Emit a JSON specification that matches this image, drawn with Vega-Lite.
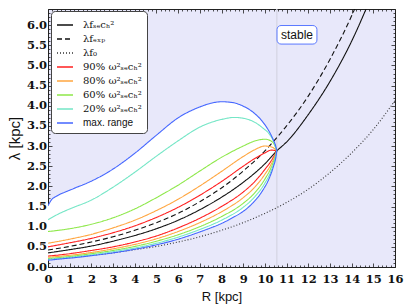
{
  "$schema": "https://vega.github.io/schema/vega-lite/v6.json",
  "width": 347,
  "height": 258,
  "autosize": {"type": "none"},
  "padding": {"left": 48, "top": 9, "right": 12, "bottom": 38},
  "background": "white",
  "config": {
    "view": {"fill": "#e8e8fa", "stroke": "#222", "strokeWidth": 1},
    "axis": {"domain": false, "grid": false, "labelOverlap": false, "labelFlush": false, "labelBound": false, "tickColor": "#222", "tickWidth": 0.8}
  },
  "datasets": {
    "curves": [
      {"s": "λfₛₑcₕ²", "b": "m", "x": 0, "y": 0.35},
      {"s": "λfₛₑcₕ²", "b": "m", "x": 1, "y": 0.43},
      {"s": "λfₛₑcₕ²", "b": "m", "x": 2, "y": 0.52},
      {"s": "λfₛₑcₕ²", "b": "m", "x": 3, "y": 0.64},
      {"s": "λfₛₑcₕ²", "b": "m", "x": 4, "y": 0.78},
      {"s": "λfₛₑcₕ²", "b": "m", "x": 5, "y": 0.95},
      {"s": "λfₛₑcₕ²", "b": "m", "x": 6, "y": 1.16},
      {"s": "λfₛₑcₕ²", "b": "m", "x": 7, "y": 1.42},
      {"s": "λfₛₑcₕ²", "b": "m", "x": 8, "y": 1.73},
      {"s": "λfₛₑcₕ²", "b": "m", "x": 9, "y": 2.1},
      {"s": "λfₛₑcₕ²", "b": "m", "x": 10, "y": 2.56},
      {"s": "λfₛₑcₕ²", "b": "m", "x": 10.55, "y": 2.88},
      {"s": "λfₛₑcₕ²", "b": "m", "x": 11, "y": 3.1},
      {"s": "λfₛₑcₕ²", "b": "m", "x": 12, "y": 3.78},
      {"s": "λfₛₑcₕ²", "b": "m", "x": 13, "y": 4.6},
      {"s": "λfₛₑcₕ²", "b": "m", "x": 14, "y": 5.6},
      {"s": "λfₛₑcₕ²", "b": "m", "x": 15, "y": 6.83},

      {"s": "λfₑₓₚ", "b": "m", "x": 0, "y": 0.42},
      {"s": "λfₑₓₚ", "b": "m", "x": 1, "y": 0.51},
      {"s": "λfₑₓₚ", "b": "m", "x": 2, "y": 0.62},
      {"s": "λfₑₓₚ", "b": "m", "x": 3, "y": 0.75},
      {"s": "λfₑₓₚ", "b": "m", "x": 4, "y": 0.91},
      {"s": "λfₑₓₚ", "b": "m", "x": 5, "y": 1.1},
      {"s": "λfₑₓₚ", "b": "m", "x": 6, "y": 1.33},
      {"s": "λfₑₓₚ", "b": "m", "x": 7, "y": 1.62},
      {"s": "λfₑₓₚ", "b": "m", "x": 8, "y": 1.96},
      {"s": "λfₑₓₚ", "b": "m", "x": 9, "y": 2.38},
      {"s": "λfₑₓₚ", "b": "m", "x": 10, "y": 2.88},
      {"s": "λfₑₓₚ", "b": "m", "x": 10.5, "y": 3.18},
      {"s": "λfₑₓₚ", "b": "m", "x": 11, "y": 3.5},
      {"s": "λfₑₓₚ", "b": "m", "x": 12, "y": 4.24},
      {"s": "λfₑₓₚ", "b": "m", "x": 13, "y": 5.15},
      {"s": "λfₑₓₚ", "b": "m", "x": 14, "y": 6.23},
      {"s": "λfₑₓₚ", "b": "m", "x": 14.5, "y": 6.85},

      {"s": "λf₀", "b": "m", "x": 0, "y": 0.2},
      {"s": "λf₀", "b": "m", "x": 1, "y": 0.24},
      {"s": "λf₀", "b": "m", "x": 2, "y": 0.29},
      {"s": "λf₀", "b": "m", "x": 3, "y": 0.35},
      {"s": "λf₀", "b": "m", "x": 4, "y": 0.43},
      {"s": "λf₀", "b": "m", "x": 5, "y": 0.51},
      {"s": "λf₀", "b": "m", "x": 6, "y": 0.62},
      {"s": "λf₀", "b": "m", "x": 7, "y": 0.75},
      {"s": "λf₀", "b": "m", "x": 8, "y": 0.91},
      {"s": "λf₀", "b": "m", "x": 9, "y": 1.1},
      {"s": "λf₀", "b": "m", "x": 10, "y": 1.33},
      {"s": "λf₀", "b": "m", "x": 11, "y": 1.6},
      {"s": "λf₀", "b": "m", "x": 12, "y": 1.93},
      {"s": "λf₀", "b": "m", "x": 13, "y": 2.34},
      {"s": "λf₀", "b": "m", "x": 14, "y": 2.83},
      {"s": "λf₀", "b": "m", "x": 15, "y": 3.41},
      {"s": "λf₀", "b": "m", "x": 16, "y": 4.13},

      {"s": "90% ω²ₛₑcₕ²", "b": "u", "x": 0, "y": 0.5},
      {"s": "90% ω²ₛₑcₕ²", "b": "u", "x": 1, "y": 0.6},
      {"s": "90% ω²ₛₑcₕ²", "b": "u", "x": 2, "y": 0.71},
      {"s": "90% ω²ₛₑcₕ²", "b": "u", "x": 3, "y": 0.85},
      {"s": "90% ω²ₛₑcₕ²", "b": "u", "x": 4, "y": 1.02},
      {"s": "90% ω²ₛₑcₕ²", "b": "u", "x": 5, "y": 1.23},
      {"s": "90% ω²ₛₑcₕ²", "b": "u", "x": 6, "y": 1.48},
      {"s": "90% ω²ₛₑcₕ²", "b": "u", "x": 7, "y": 1.78},
      {"s": "90% ω²ₛₑcₕ²", "b": "u", "x": 8, "y": 2.12},
      {"s": "90% ω²ₛₑcₕ²", "b": "u", "x": 9, "y": 2.5},
      {"s": "90% ω²ₛₑcₕ²", "b": "u", "x": 9.5, "y": 2.68},
      {"s": "90% ω²ₛₑcₕ²", "b": "u", "x": 10, "y": 2.83},
      {"s": "90% ω²ₛₑcₕ²", "b": "u", "x": 10.3, "y": 2.9},
      {"s": "90% ω²ₛₑcₕ²", "b": "u", "x": 10.55, "y": 2.88},
      {"s": "90% ω²ₛₑcₕ²", "b": "l", "x": 0, "y": 0.27},
      {"s": "90% ω²ₛₑcₕ²", "b": "l", "x": 1, "y": 0.33},
      {"s": "90% ω²ₛₑcₕ²", "b": "l", "x": 2, "y": 0.41},
      {"s": "90% ω²ₛₑcₕ²", "b": "l", "x": 3, "y": 0.5},
      {"s": "90% ω²ₛₑcₕ²", "b": "l", "x": 4, "y": 0.62},
      {"s": "90% ω²ₛₑcₕ²", "b": "l", "x": 5, "y": 0.77},
      {"s": "90% ω²ₛₑcₕ²", "b": "l", "x": 6, "y": 0.97},
      {"s": "90% ω²ₛₑcₕ²", "b": "l", "x": 7, "y": 1.21},
      {"s": "90% ω²ₛₑcₕ²", "b": "l", "x": 8, "y": 1.5},
      {"s": "90% ω²ₛₑcₕ²", "b": "l", "x": 9, "y": 1.86},
      {"s": "90% ω²ₛₑcₕ²", "b": "l", "x": 9.5, "y": 2.1},
      {"s": "90% ω²ₛₑcₕ²", "b": "l", "x": 10, "y": 2.42},
      {"s": "90% ω²ₛₑcₕ²", "b": "l", "x": 10.3, "y": 2.64},
      {"s": "90% ω²ₛₑcₕ²", "b": "l", "x": 10.45, "y": 2.78},
      {"s": "90% ω²ₛₑcₕ²", "b": "l", "x": 10.55, "y": 2.88},

      {"s": "80% ω²ₛₑcₕ²", "b": "u", "x": 0, "y": 0.59},
      {"s": "80% ω²ₛₑcₕ²", "b": "u", "x": 1, "y": 0.69},
      {"s": "80% ω²ₛₑcₕ²", "b": "u", "x": 2, "y": 0.81},
      {"s": "80% ω²ₛₑcₕ²", "b": "u", "x": 3, "y": 0.97},
      {"s": "80% ω²ₛₑcₕ²", "b": "u", "x": 4, "y": 1.16},
      {"s": "80% ω²ₛₑcₕ²", "b": "u", "x": 5, "y": 1.4},
      {"s": "80% ω²ₛₑcₕ²", "b": "u", "x": 6, "y": 1.68},
      {"s": "80% ω²ₛₑcₕ²", "b": "u", "x": 7, "y": 2.01},
      {"s": "80% ω²ₛₑcₕ²", "b": "u", "x": 8, "y": 2.37},
      {"s": "80% ω²ₛₑcₕ²", "b": "u", "x": 9, "y": 2.74},
      {"s": "80% ω²ₛₑcₕ²", "b": "u", "x": 9.5, "y": 2.9},
      {"s": "80% ω²ₛₑcₕ²", "b": "u", "x": 10, "y": 3.0},
      {"s": "80% ω²ₛₑcₕ²", "b": "u", "x": 10.3, "y": 2.98},
      {"s": "80% ω²ₛₑcₕ²", "b": "u", "x": 10.55, "y": 2.88},
      {"s": "80% ω²ₛₑcₕ²", "b": "l", "x": 0, "y": 0.24},
      {"s": "80% ω²ₛₑcₕ²", "b": "l", "x": 1, "y": 0.29},
      {"s": "80% ω²ₛₑcₕ²", "b": "l", "x": 2, "y": 0.36},
      {"s": "80% ω²ₛₑcₕ²", "b": "l", "x": 3, "y": 0.45},
      {"s": "80% ω²ₛₑcₕ²", "b": "l", "x": 4, "y": 0.56},
      {"s": "80% ω²ₛₑcₕ²", "b": "l", "x": 5, "y": 0.7},
      {"s": "80% ω²ₛₑcₕ²", "b": "l", "x": 6, "y": 0.88},
      {"s": "80% ω²ₛₑcₕ²", "b": "l", "x": 7, "y": 1.1},
      {"s": "80% ω²ₛₑcₕ²", "b": "l", "x": 8, "y": 1.37},
      {"s": "80% ω²ₛₑcₕ²", "b": "l", "x": 9, "y": 1.72},
      {"s": "80% ω²ₛₑcₕ²", "b": "l", "x": 9.5, "y": 1.96},
      {"s": "80% ω²ₛₑcₕ²", "b": "l", "x": 10, "y": 2.3},
      {"s": "80% ω²ₛₑcₕ²", "b": "l", "x": 10.3, "y": 2.56},
      {"s": "80% ω²ₛₑcₕ²", "b": "l", "x": 10.45, "y": 2.74},
      {"s": "80% ω²ₛₑcₕ²", "b": "l", "x": 10.55, "y": 2.88},

      {"s": "60% ω²ₛₑcₕ²", "b": "u", "x": 0, "y": 0.88},
      {"s": "60% ω²ₛₑcₕ²", "b": "u", "x": 1, "y": 0.95},
      {"s": "60% ω²ₛₑcₕ²", "b": "u", "x": 2, "y": 1.06},
      {"s": "60% ω²ₛₑcₕ²", "b": "u", "x": 3, "y": 1.22},
      {"s": "60% ω²ₛₑcₕ²", "b": "u", "x": 4, "y": 1.44},
      {"s": "60% ω²ₛₑcₕ²", "b": "u", "x": 5, "y": 1.72},
      {"s": "60% ω²ₛₑcₕ²", "b": "u", "x": 6, "y": 2.03},
      {"s": "60% ω²ₛₑcₕ²", "b": "u", "x": 7, "y": 2.38},
      {"s": "60% ω²ₛₑcₕ²", "b": "u", "x": 8, "y": 2.72},
      {"s": "60% ω²ₛₑcₕ²", "b": "u", "x": 9, "y": 3.0},
      {"s": "60% ω²ₛₑcₕ²", "b": "u", "x": 9.5, "y": 3.12},
      {"s": "60% ω²ₛₑcₕ²", "b": "u", "x": 10, "y": 3.17},
      {"s": "60% ω²ₛₑcₕ²", "b": "u", "x": 10.3, "y": 3.12},
      {"s": "60% ω²ₛₑcₕ²", "b": "u", "x": 10.45, "y": 3.02},
      {"s": "60% ω²ₛₑcₕ²", "b": "u", "x": 10.55, "y": 2.88},
      {"s": "60% ω²ₛₑcₕ²", "b": "l", "x": 0, "y": 0.21},
      {"s": "60% ω²ₛₑcₕ²", "b": "l", "x": 1, "y": 0.26},
      {"s": "60% ω²ₛₑcₕ²", "b": "l", "x": 2, "y": 0.33},
      {"s": "60% ω²ₛₑcₕ²", "b": "l", "x": 3, "y": 0.41},
      {"s": "60% ω²ₛₑcₕ²", "b": "l", "x": 4, "y": 0.51},
      {"s": "60% ω²ₛₑcₕ²", "b": "l", "x": 5, "y": 0.64},
      {"s": "60% ω²ₛₑcₕ²", "b": "l", "x": 6, "y": 0.8},
      {"s": "60% ω²ₛₑcₕ²", "b": "l", "x": 7, "y": 1.0},
      {"s": "60% ω²ₛₑcₕ²", "b": "l", "x": 8, "y": 1.25},
      {"s": "60% ω²ₛₑcₕ²", "b": "l", "x": 9, "y": 1.58},
      {"s": "60% ω²ₛₑcₕ²", "b": "l", "x": 9.5, "y": 1.82},
      {"s": "60% ω²ₛₑcₕ²", "b": "l", "x": 10, "y": 2.18},
      {"s": "60% ω²ₛₑcₕ²", "b": "l", "x": 10.3, "y": 2.48},
      {"s": "60% ω²ₛₑcₕ²", "b": "l", "x": 10.45, "y": 2.7},
      {"s": "60% ω²ₛₑcₕ²", "b": "l", "x": 10.55, "y": 2.88},

      {"s": "20% ω²ₛₑcₕ²", "b": "u", "x": 0, "y": 1.17},
      {"s": "20% ω²ₛₑcₕ²", "b": "u", "x": 0.5, "y": 1.32},
      {"s": "20% ω²ₛₑcₕ²", "b": "u", "x": 1, "y": 1.44},
      {"s": "20% ω²ₛₑcₕ²", "b": "u", "x": 2, "y": 1.66},
      {"s": "20% ω²ₛₑcₕ²", "b": "u", "x": 3, "y": 1.98},
      {"s": "20% ω²ₛₑcₕ²", "b": "u", "x": 4, "y": 2.35},
      {"s": "20% ω²ₛₑcₕ²", "b": "u", "x": 5, "y": 2.75},
      {"s": "20% ω²ₛₑcₕ²", "b": "u", "x": 6, "y": 3.13},
      {"s": "20% ω²ₛₑcₕ²", "b": "u", "x": 7, "y": 3.47},
      {"s": "20% ω²ₛₑcₕ²", "b": "u", "x": 8, "y": 3.66},
      {"s": "20% ω²ₛₑcₕ²", "b": "u", "x": 8.6, "y": 3.71},
      {"s": "20% ω²ₛₑcₕ²", "b": "u", "x": 9, "y": 3.69},
      {"s": "20% ω²ₛₑcₕ²", "b": "u", "x": 9.5, "y": 3.6},
      {"s": "20% ω²ₛₑcₕ²", "b": "u", "x": 9.9, "y": 3.45},
      {"s": "20% ω²ₛₑcₕ²", "b": "u", "x": 10.2, "y": 3.3},
      {"s": "20% ω²ₛₑcₕ²", "b": "u", "x": 10.4, "y": 3.12},
      {"s": "20% ω²ₛₑcₕ²", "b": "u", "x": 10.55, "y": 2.88},
      {"s": "20% ω²ₛₑcₕ²", "b": "l", "x": 0, "y": 0.19},
      {"s": "20% ω²ₛₑcₕ²", "b": "l", "x": 1, "y": 0.24},
      {"s": "20% ω²ₛₑcₕ²", "b": "l", "x": 2, "y": 0.3},
      {"s": "20% ω²ₛₑcₕ²", "b": "l", "x": 3, "y": 0.38},
      {"s": "20% ω²ₛₑcₕ²", "b": "l", "x": 4, "y": 0.47},
      {"s": "20% ω²ₛₑcₕ²", "b": "l", "x": 5, "y": 0.59},
      {"s": "20% ω²ₛₑcₕ²", "b": "l", "x": 6, "y": 0.74},
      {"s": "20% ω²ₛₑcₕ²", "b": "l", "x": 7, "y": 0.93},
      {"s": "20% ω²ₛₑcₕ²", "b": "l", "x": 8, "y": 1.16},
      {"s": "20% ω²ₛₑcₕ²", "b": "l", "x": 9, "y": 1.48},
      {"s": "20% ω²ₛₑcₕ²", "b": "l", "x": 9.5, "y": 1.72},
      {"s": "20% ω²ₛₑcₕ²", "b": "l", "x": 10, "y": 2.08},
      {"s": "20% ω²ₛₑcₕ²", "b": "l", "x": 10.3, "y": 2.4},
      {"s": "20% ω²ₛₑcₕ²", "b": "l", "x": 10.45, "y": 2.65},
      {"s": "20% ω²ₛₑcₕ²", "b": "l", "x": 10.55, "y": 2.88},

      {"s": "max. range", "b": "u", "x": 0, "y": 1.52},
      {"s": "max. range", "b": "u", "x": 0.15, "y": 1.66},
      {"s": "max. range", "b": "u", "x": 0.4, "y": 1.76},
      {"s": "max. range", "b": "u", "x": 0.8, "y": 1.86},
      {"s": "max. range", "b": "u", "x": 1.2, "y": 1.95},
      {"s": "max. range", "b": "u", "x": 2, "y": 2.13},
      {"s": "max. range", "b": "u", "x": 3, "y": 2.43},
      {"s": "max. range", "b": "u", "x": 4, "y": 2.82},
      {"s": "max. range", "b": "u", "x": 5, "y": 3.27},
      {"s": "max. range", "b": "u", "x": 6, "y": 3.7},
      {"s": "max. range", "b": "u", "x": 7, "y": 3.97},
      {"s": "max. range", "b": "u", "x": 7.5, "y": 4.06},
      {"s": "max. range", "b": "u", "x": 8, "y": 4.1},
      {"s": "max. range", "b": "u", "x": 8.5, "y": 4.08},
      {"s": "max. range", "b": "u", "x": 9, "y": 3.99},
      {"s": "max. range", "b": "u", "x": 9.5, "y": 3.82},
      {"s": "max. range", "b": "u", "x": 9.9, "y": 3.6},
      {"s": "max. range", "b": "u", "x": 10.2, "y": 3.36},
      {"s": "max. range", "b": "u", "x": 10.4, "y": 3.14},
      {"s": "max. range", "b": "u", "x": 10.5, "y": 3.0},
      {"s": "max. range", "b": "u", "x": 10.55, "y": 2.88},
      {"s": "max. range", "b": "l", "x": 0, "y": 0.17},
      {"s": "max. range", "b": "l", "x": 0.15, "y": 0.175},
      {"s": "max. range", "b": "l", "x": 0.4, "y": 0.19},
      {"s": "max. range", "b": "l", "x": 0.8, "y": 0.21},
      {"s": "max. range", "b": "l", "x": 1.2, "y": 0.23},
      {"s": "max. range", "b": "l", "x": 2, "y": 0.28},
      {"s": "max. range", "b": "l", "x": 3, "y": 0.35},
      {"s": "max. range", "b": "l", "x": 4, "y": 0.44},
      {"s": "max. range", "b": "l", "x": 5, "y": 0.55},
      {"s": "max. range", "b": "l", "x": 6, "y": 0.69},
      {"s": "max. range", "b": "l", "x": 7, "y": 0.87},
      {"s": "max. range", "b": "l", "x": 7.5, "y": 0.97},
      {"s": "max. range", "b": "l", "x": 8, "y": 1.08},
      {"s": "max. range", "b": "l", "x": 8.5, "y": 1.22},
      {"s": "max. range", "b": "l", "x": 9, "y": 1.38},
      {"s": "max. range", "b": "l", "x": 9.5, "y": 1.62},
      {"s": "max. range", "b": "l", "x": 9.9, "y": 1.9},
      {"s": "max. range", "b": "l", "x": 10.2, "y": 2.2},
      {"s": "max. range", "b": "l", "x": 10.4, "y": 2.5},
      {"s": "max. range", "b": "l", "x": 10.5, "y": 2.7},
      {"s": "max. range", "b": "l", "x": 10.55, "y": 2.88}
    ],
    "boundary": [{"x": 10.55}],
    "box": [{"x1": 10.56, "x2": 12.4, "y1": 5.53, "y2": 5.99, "label": "stable", "xc": 11.48, "yc": 5.76}]
  },
  "resolve": {"axis": {"x": "independent", "y": "independent"}},
  "layer": [
    {
      "data": {"name": "curves"},
      "transform": [
        {"filter": "datum.s === 'max. range'"},
        {"pivot": "b", "value": "y", "groupby": ["x"]}
      ],
      "mark": {"type": "area", "fill": "white", "interpolate": "monotone", "clip": true},
      "encoding": {
        "x": {"field": "x", "type": "quantitative", "scale": {"domain": [0, 16], "nice": false, "zero": false},
          "axis": {"orient": "top", "labels": false, "title": null,
            "values": [0,0.2,0.4,0.6,0.8,1,1.2,1.4,1.6,1.8,2,2.2,2.4,2.6,2.8,3,3.2,3.4,3.6,3.8,4,4.2,4.4,4.6,4.8,5,5.2,5.4,5.6,5.8,6,6.2,6.4,6.6,6.8,7,7.2,7.4,7.6,7.8,8,8.2,8.4,8.6,8.8,9,9.2,9.4,9.6,9.8,10,10.2,10.4,10.6,10.8,11,11.2,11.4,11.6,11.8,12,12.2,12.4,12.6,12.8,13,13.2,13.4,13.6,13.8,14,14.2,14.4,14.6,14.8,15,15.2,15.4,15.6,15.8,16],
            "tickSize": {"condition": {"test": "datum.value % 1 === 0", "value": -4}, "value": -2}}},
        "y": {"field": "l", "type": "quantitative", "scale": {"domain": [0, 6.4], "nice": false, "zero": false},
          "axis": {"orient": "right", "labels": false, "title": null,
            "values": [0,0.1,0.2,0.3,0.4,0.5,0.6,0.7,0.8,0.9,1,1.1,1.2,1.3,1.4,1.5,1.6,1.7,1.8,1.9,2,2.1,2.2,2.3,2.4,2.5,2.6,2.7,2.8,2.9,3,3.1,3.2,3.3,3.4,3.5,3.6,3.7,3.8,3.9,4,4.1,4.2,4.3,4.4,4.5,4.6,4.7,4.8,4.9,5,5.1,5.2,5.3,5.4,5.5,5.6,5.7,5.8,5.9,6,6.1,6.2,6.3,6.4],
            "tickSize": {"condition": {"test": "datum.value * 2 % 1 === 0", "value": -4}, "value": -2}}},
        "y2": {"field": "u"}
      }
    },
    {
      "data": {"name": "boundary"},
      "mark": {"type": "rule", "color": "#d6d6e4", "strokeWidth": 1.3},
      "encoding": {
        "x": {"field": "x", "type": "quantitative", "axis": null}
      }
    },
    {
      "data": {"name": "curves"},
      "mark": {"type": "line", "strokeWidth": 1.1, "interpolate": "monotone", "clip": true},
      "encoding": {
        "x": {"field": "x", "type": "quantitative",
          "axis": {"orient": "bottom", "title": "R [kpc]", "titleFont": "Liberation Sans", "titleFontSize": 13, "titleFontWeight": "normal", "titleColor": "#111",
            "labelFont": "DejaVu Serif", "labelFontWeight": "bold", "labelFontSize": 11.5, "labelColor": "#111", "labelPadding": 10,
            "values": [0,0.2,0.4,0.6,0.8,1,1.2,1.4,1.6,1.8,2,2.2,2.4,2.6,2.8,3,3.2,3.4,3.6,3.8,4,4.2,4.4,4.6,4.8,5,5.2,5.4,5.6,5.8,6,6.2,6.4,6.6,6.8,7,7.2,7.4,7.6,7.8,8,8.2,8.4,8.6,8.8,9,9.2,9.4,9.6,9.8,10,10.2,10.4,10.6,10.8,11,11.2,11.4,11.6,11.8,12,12.2,12.4,12.6,12.8,13,13.2,13.4,13.6,13.8,14,14.2,14.4,14.6,14.8,15,15.2,15.4,15.6,15.8,16],
            "labelExpr": "datum.value % 1 === 0 ? format(datum.value, 'd') : ''",
            "tickSize": {"condition": {"test": "datum.value % 1 === 0", "value": -4}, "value": -2}}},
        "y": {"field": "y", "type": "quantitative",
          "axis": {"orient": "left", "title": "λ [kpc]", "titleFont": "Liberation Sans", "titleFontSize": 15, "titleFontWeight": "normal", "titleColor": "#111",
            "labelFont": "DejaVu Serif", "labelFontWeight": "bold", "labelFontSize": 11.5, "labelColor": "#111", "labelPadding": 5.5,
            "values": [0,0.1,0.2,0.3,0.4,0.5,0.6,0.7,0.8,0.9,1,1.1,1.2,1.3,1.4,1.5,1.6,1.7,1.8,1.9,2,2.1,2.2,2.3,2.4,2.5,2.6,2.7,2.8,2.9,3,3.1,3.2,3.3,3.4,3.5,3.6,3.7,3.8,3.9,4,4.1,4.2,4.3,4.4,4.5,4.6,4.7,4.8,4.9,5,5.1,5.2,5.3,5.4,5.5,5.6,5.7,5.8,5.9,6,6.1,6.2,6.3,6.4],
            "labelExpr": "datum.value * 2 % 1 === 0 ? format(datum.value, '.1f') : ''",
            "tickSize": {"condition": {"test": "datum.value * 2 % 1 === 0", "value": -4}, "value": -2}}},
        "detail": {"field": "b"},
        "color": {"field": "s", "type": "nominal",
          "scale": {"domain": ["λfₛₑcₕ²", "λfₑₓₚ", "λf₀", "90% ω²ₛₑcₕ²", "80% ω²ₛₑcₕ²", "60% ω²ₛₑcₕ²", "20% ω²ₛₑcₕ²", "max. range"],
                    "range": ["#111111", "#111111", "#333333", "#ff2020", "#ffa640", "#8ee84a", "#74e6c6", "#4466ff"]},
          "legend": {"title": null, "orient": "none", "legendX": 3, "legendY": 2, "symbolType": "stroke", "symbolSize": 256, "symbolStrokeWidth": 1.3,
            "labelFont": "DejaVu Serif", "labelFontSize": 10, "labelColor": "#111", "labelOffset": 9, "rowPadding": 0, "padding": 5,
            "strokeColor": "#444", "fillColor": "white", "cornerRadius": 4,
            "encode": {"labels": {"update": {"font": {"signal": "datum.label === 'max. range' ? 'Liberation Sans' : 'DejaVu Serif'"}}}}}},
        "strokeDash": {"field": "s", "type": "nominal",
          "scale": {"domain": ["λfₛₑcₕ²", "λfₑₓₚ", "λf₀", "90% ω²ₛₑcₕ²", "80% ω²ₛₑcₕ²", "60% ω²ₛₑcₕ²", "20% ω²ₛₑcₕ²", "max. range"],
                    "range": [[1, 0], [5, 3], [1, 2], [1, 0], [1, 0], [1, 0], [1, 0], [1, 0]]},
          "legend": {"title": null}}
      }
    },
    {
      "data": {"name": "box"},
      "mark": {"type": "rect", "fill": "white", "stroke": "#5a78ff", "strokeWidth": 1, "cornerRadius": 4},
      "encoding": {
        "x": {"field": "x1", "type": "quantitative", "axis": null},
        "x2": {"field": "x2"},
        "y": {"field": "y1", "type": "quantitative", "axis": null},
        "y2": {"field": "y2"}
      }
    },
    {
      "data": {"name": "box"},
      "mark": {"type": "text", "font": "Liberation Sans", "fontSize": 12, "color": "#111", "align": "center", "baseline": "middle"},
      "encoding": {
        "x": {"field": "xc", "type": "quantitative", "axis": null},
        "y": {"field": "yc", "type": "quantitative", "axis": null},
        "text": {"field": "label"}
      }
    }
  ]
}
